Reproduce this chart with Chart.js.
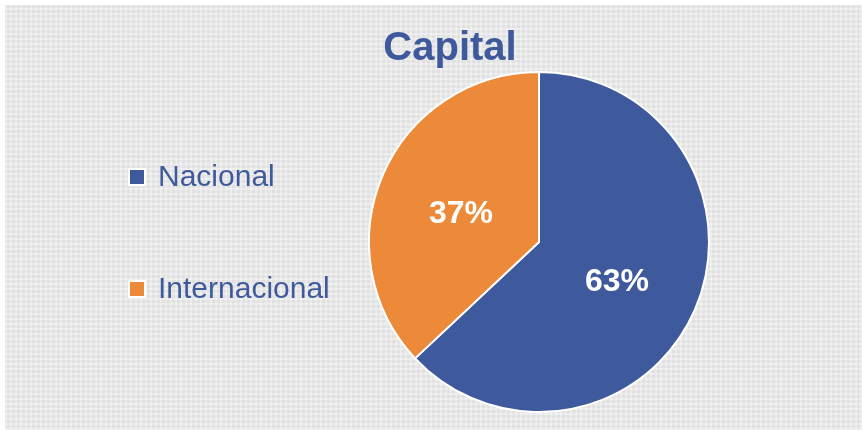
<!DOCTYPE html>
<html>
<head>
<meta charset="utf-8">
<script src="https://cdn.jsdelivr.net/npm/chart.js@4.4.0/dist/chart.umd.min.js"></script>
<style>
  html, body { margin: 0; padding: 0; background: #ffffff; }
  #wrap { position: relative; width: 862px; height: 430px; overflow: hidden; }
  #bg {
    position: absolute; left: 5px; top: 5px; width: 857px; height: 425px;
    background-color: #e1e1e1;
    background-image:
      repeating-linear-gradient(90deg, rgba(255,255,255,0.35) 0px, rgba(255,255,255,0.35) 2px, transparent 2px, transparent 5px),
      repeating-linear-gradient(0deg, rgba(255,255,255,0.35) 0px, rgba(255,255,255,0.35) 2px, transparent 2px, transparent 5px),
      repeating-linear-gradient(90deg, rgba(200,200,200,0.25) 0px, rgba(200,200,200,0.25) 1px, transparent 1px, transparent 10px);
  }
  canvas { position: absolute; left: 0; top: 0; }
</style>
</head>
<body>
<div id="wrap">
  <div id="bg"></div>
  <canvas id="c" width="862" height="430"></canvas>
</div>
<script>
const chartTitle = "Capital";
const categories = ["Nacional", "Internacional"];
const values = [63, 37];
const sliceColors = ["#3F5A9C", "#ED8A3A"];
const textColor = "#3F5A9C";

const titlePlugin = {
  id: "customTitle",
  afterDraw(chart) {
    const ctx = chart.ctx;
    ctx.save();
    ctx.font = "bold 40px 'Liberation Sans', Arial, sans-serif";
    ctx.fillStyle = textColor;
    ctx.textAlign = "center";
    ctx.textBaseline = "alphabetic";
    ctx.fillText(chartTitle, 450, 60);
    ctx.restore();
  }
};

const legendPlugin = {
  id: "customLegend",
  afterDraw(chart) {
    const ctx = chart.ctx;
    const ys = [186, 298];
    ctx.save();
    ctx.font = "30px 'Liberation Sans', Arial, sans-serif";
    ctx.textBaseline = "alphabetic";
    ctx.textAlign = "left";
    chart.data.labels.forEach((lab, i) => {
      const b = ys[i];
      ctx.fillStyle = "#ffffff";
      ctx.fillRect(128, b - 18, 18, 18);
      ctx.fillStyle = chart.data.datasets[0].backgroundColor[i];
      ctx.fillRect(130, b - 16, 14, 14);
      ctx.fillStyle = textColor;
      ctx.fillText(lab, 158, b);
    });
    ctx.restore();
  }
};

const labelPlugin = {
  id: "sliceLabels",
  afterDatasetsDraw(chart) {
    const ctx = chart.ctx;
    const meta = chart.getDatasetMeta(0);
    const data = chart.data.datasets[0].data;
    const total = data.reduce((a, b) => a + b, 0);
    ctx.save();
    ctx.font = "bold 32px 'Liberation Sans', Arial, sans-serif";
    ctx.fillStyle = "#ffffff";
    ctx.textAlign = "center";
    ctx.textBaseline = "alphabetic";
    meta.data.forEach((arc, i) => {
      const p = arc.tooltipPosition();
      ctx.fillText(Math.round(data[i] / total * 100) + "%", p.x, p.y + 15);
    });
    ctx.restore();
  }
};

new Chart(document.getElementById("c"), {
  type: "pie",
  data: {
    labels: categories,
    datasets: [{
      data: values,
      backgroundColor: sliceColors,
      borderColor: "#ffffff",
      borderWidth: 2
    }]
  },
  options: {
    responsive: false,
    animation: false,
    layout: { padding: { left: 368, right: 152, top: 71, bottom: 17 } },
    plugins: {
      legend: { display: false },
      title: { display: false },
      tooltip: { enabled: false }
    }
  },
  plugins: [titlePlugin, legendPlugin, labelPlugin]
});
</script>
</body>
</html>
